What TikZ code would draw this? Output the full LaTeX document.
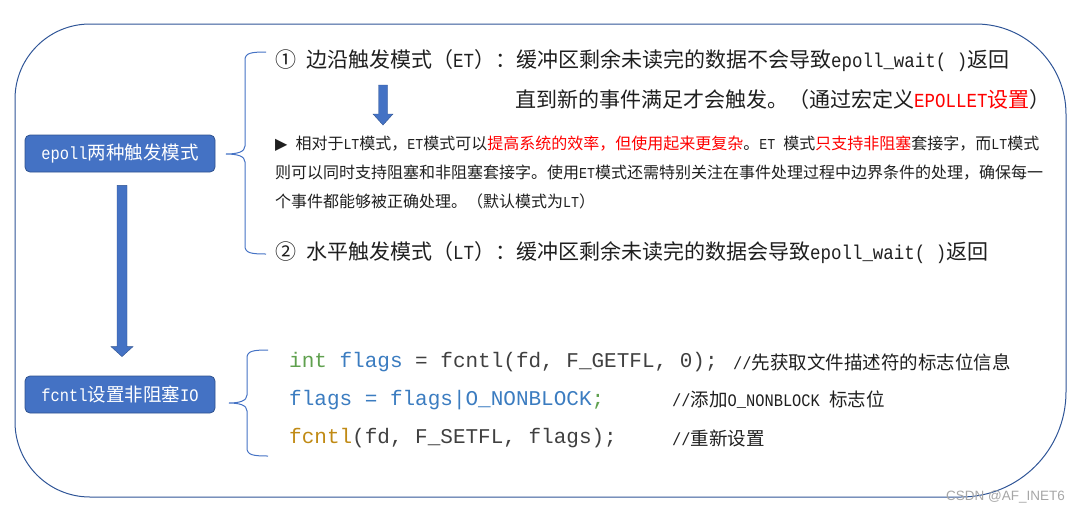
\documentclass[tikz,border=0pt]{standalone}
\usepackage{fontspec}
\setmainfont{Noto Sans CJK SC}
\newfontfamily\hw{Liberation Mono}[Scale=0.95, FakeStretch=0.875]
\newfontfamily\codefont{Liberation Mono}
\newfontfamily\symfont{DejaVu Sans}
\newfontfamily\wmfont{Liberation Sans}
\usetikzlibrary{calc}
\definecolor{framecol}{HTML}{2F5597}
\definecolor{boxfill}{HTML}{4472C4}
\definecolor{boxline}{HTML}{2F528F}
\definecolor{bracecol}{HTML}{4472C4}
\definecolor{txt}{HTML}{1F1F1F}
\definecolor{hlred}{HTML}{FF0000}
\definecolor{cgreen}{HTML}{5FA04E}
\definecolor{cblue}{HTML}{3B7CC0}
\definecolor{cgold}{HTML}{C08A14}
\definecolor{cgray}{HTML}{404040}
\definecolor{wm}{HTML}{A6A6A6}
\tikzset{
  topicbox/.style={draw=boxline, fill=boxfill, line width=0.8pt, rounded corners=5pt,
    minimum width=190pt, minimum height=37pt, inner sep=0pt, text=white,
    font=\fontsize{18.5}{22}\selectfont},
  bigline/.style={anchor=west, inner sep=0pt, text=txt, font=\fontsize{21}{25}\selectfont},
  smallline/.style={anchor=west, inner sep=0pt, text=txt, font=\fontsize{16}{19}\selectfont},
  codeline/.style={anchor=west, inner sep=0pt, text=cgray, font=\codefont\fontsize{21}{25}\selectfont},
  commentline/.style={anchor=west, inner sep=0pt, text=txt, font=\fontsize{18.5}{22}\selectfont},
  bracepath/.style={draw=bracecol, line width=1pt},
  blockarrow/.style={fill=boxfill, draw=boxline, line width=0.4pt},
}
\newcommand{\rd}[1]{{\color{hlred}#1}}
\begin{document}
\begin{tikzpicture}[x=1pt,y=-1pt]
\useasboundingbox (0,0) rectangle (1080,512);
% outer frame
\draw[framecol, line width=1pt]
  (15,99) .. controls (15,57.6) and (48.6,24) .. (90,24)
  -- (976,24) .. controls (1025.7,24) and (1066,64.3) .. (1066,114)
  -- (1066,392) .. controls (1066,450) and (1019,497) .. (961,497)
  -- (90,497) .. controls (48.6,497) and (15,463.4) .. (15,422) -- cycle;

% topic boxes
\node[topicbox] (b1) at (120,153.5) {{\hw epoll}两种触发模式};
\node[topicbox] (b2) at (120,394.5) {{\hw fcntl}设置非阻塞{\hw IO}};

% big arrow between boxes
\coordinate (as) at ($(b1.south)+(2,13)$);
\coordinate (ae) at ($(b2.north)+(2,-19)$);
\filldraw[blockarrow] ($(as)+(-5,0)$) -- ($(as)+(5,0)$) -- ($(ae)+(5,-10)$) -- ($(ae)+(11,-10)$)
  -- (ae) -- ($(ae)+(-11,-10)$) -- ($(ae)+(-5,-10)$) -- cycle;

% braces
\draw[bracepath] (266,52) .. controls (251,52) and (245,53) .. (245,60) -- (245,146)
  .. controls (245,152) and (237,154) .. (226,154)
  .. controls (237,154) and (245,156) .. (245,162) -- (245,246)
  .. controls (245,253) and (251,254) .. (266,254);
\draw[bracepath] (268,350) .. controls (253,350) and (247,351) .. (247,358) -- (247,395)
  .. controls (247,401) and (239,403) .. (229,403)
  .. controls (239,403) and (247,405) .. (247,411) -- (247,448)
  .. controls (247,455) and (253,456) .. (268,456);

% ET text
\node[bigline] (et1) at (275,61) {①\hspace{10pt}边沿触发模式（{\hw ET}）：缓冲区剩余未读完的数据不会导致{\hw epoll\_wait( )}返回};
\node[bigline] (et2) at (515,100) {直到新的事件满足才会触发。（通过宏定义\rd{{\hw EPOLLET}设置}）};

% small arrow
\coordinate (sa) at (383,85);
\coordinate (sb) at (383,125);
\filldraw[blockarrow] ($(sa)+(-4.5,0)$) -- ($(sa)+(4.5,0)$) -- ($(sb)+(4.5,-11)$) -- ($(sb)+(10,-11)$)
  -- (sb) -- ($(sb)+(-10,-11)$) -- ($(sb)+(-4.5,-11)$) -- cycle;

% paragraph
\node[smallline] (p1) at (275,144) {{\symfont\fontsize{16}{19}\selectfont ▶}\hspace{8pt}相对于{\hw LT}模式，{\hw ET}模式可以\rd{提高系统的效率，但使用起来更复杂}。{\hw ET }模式\rd{只支持非阻塞}套接字，而{\hw LT}模式};
\node[smallline] (p2) at (275,173) {则可以同时支持阻塞和非阻塞套接字。使用{\hw ET}模式还需特别关注在事件处理过程中边界条件的处理，确保每一};
\node[smallline] (p3) at (275,201) {个事件都能够被正确处理。（默认模式为{\hw LT}）};

% LT text
\node[bigline] (lt) at (275,253) {②\hspace{10pt}水平触发模式（{\hw LT}）：缓冲区剩余未读完的数据会导致{\hw epoll\_wait( )}返回};

% code
\node[codeline] (c1) at (289,362) {{\color{cgreen}int} {\color{cblue}flags} = fcntl(fd, F\_GETFL, 0);};
\node[codeline] (c2) at (289,400) {{\color{cblue}flags = flags|O\_NONBLOCK}{\color{cgreen};}};
\node[codeline] (c3) at (289,438) {{\color{cgold}fcntl}(fd, F\_SETFL, flags);};
\node[commentline] (m1) at (733,362) {{\hw //}先获取文件描述符的标志位信息};
\node[commentline] (m2) at (672,400) {{\hw //}添加{\hw O\_NONBLOCK }标志位};
\node[commentline] (m3) at (672,438) {{\hw //}重新设置};

% watermark
\node[anchor=east, inner sep=0pt, text=wm, font=\wmfont\fontsize{13.5}{16}\selectfont] (wmk) at (1065,497) {CSDN @AF\_INET6};
\end{tikzpicture}
\end{document}
